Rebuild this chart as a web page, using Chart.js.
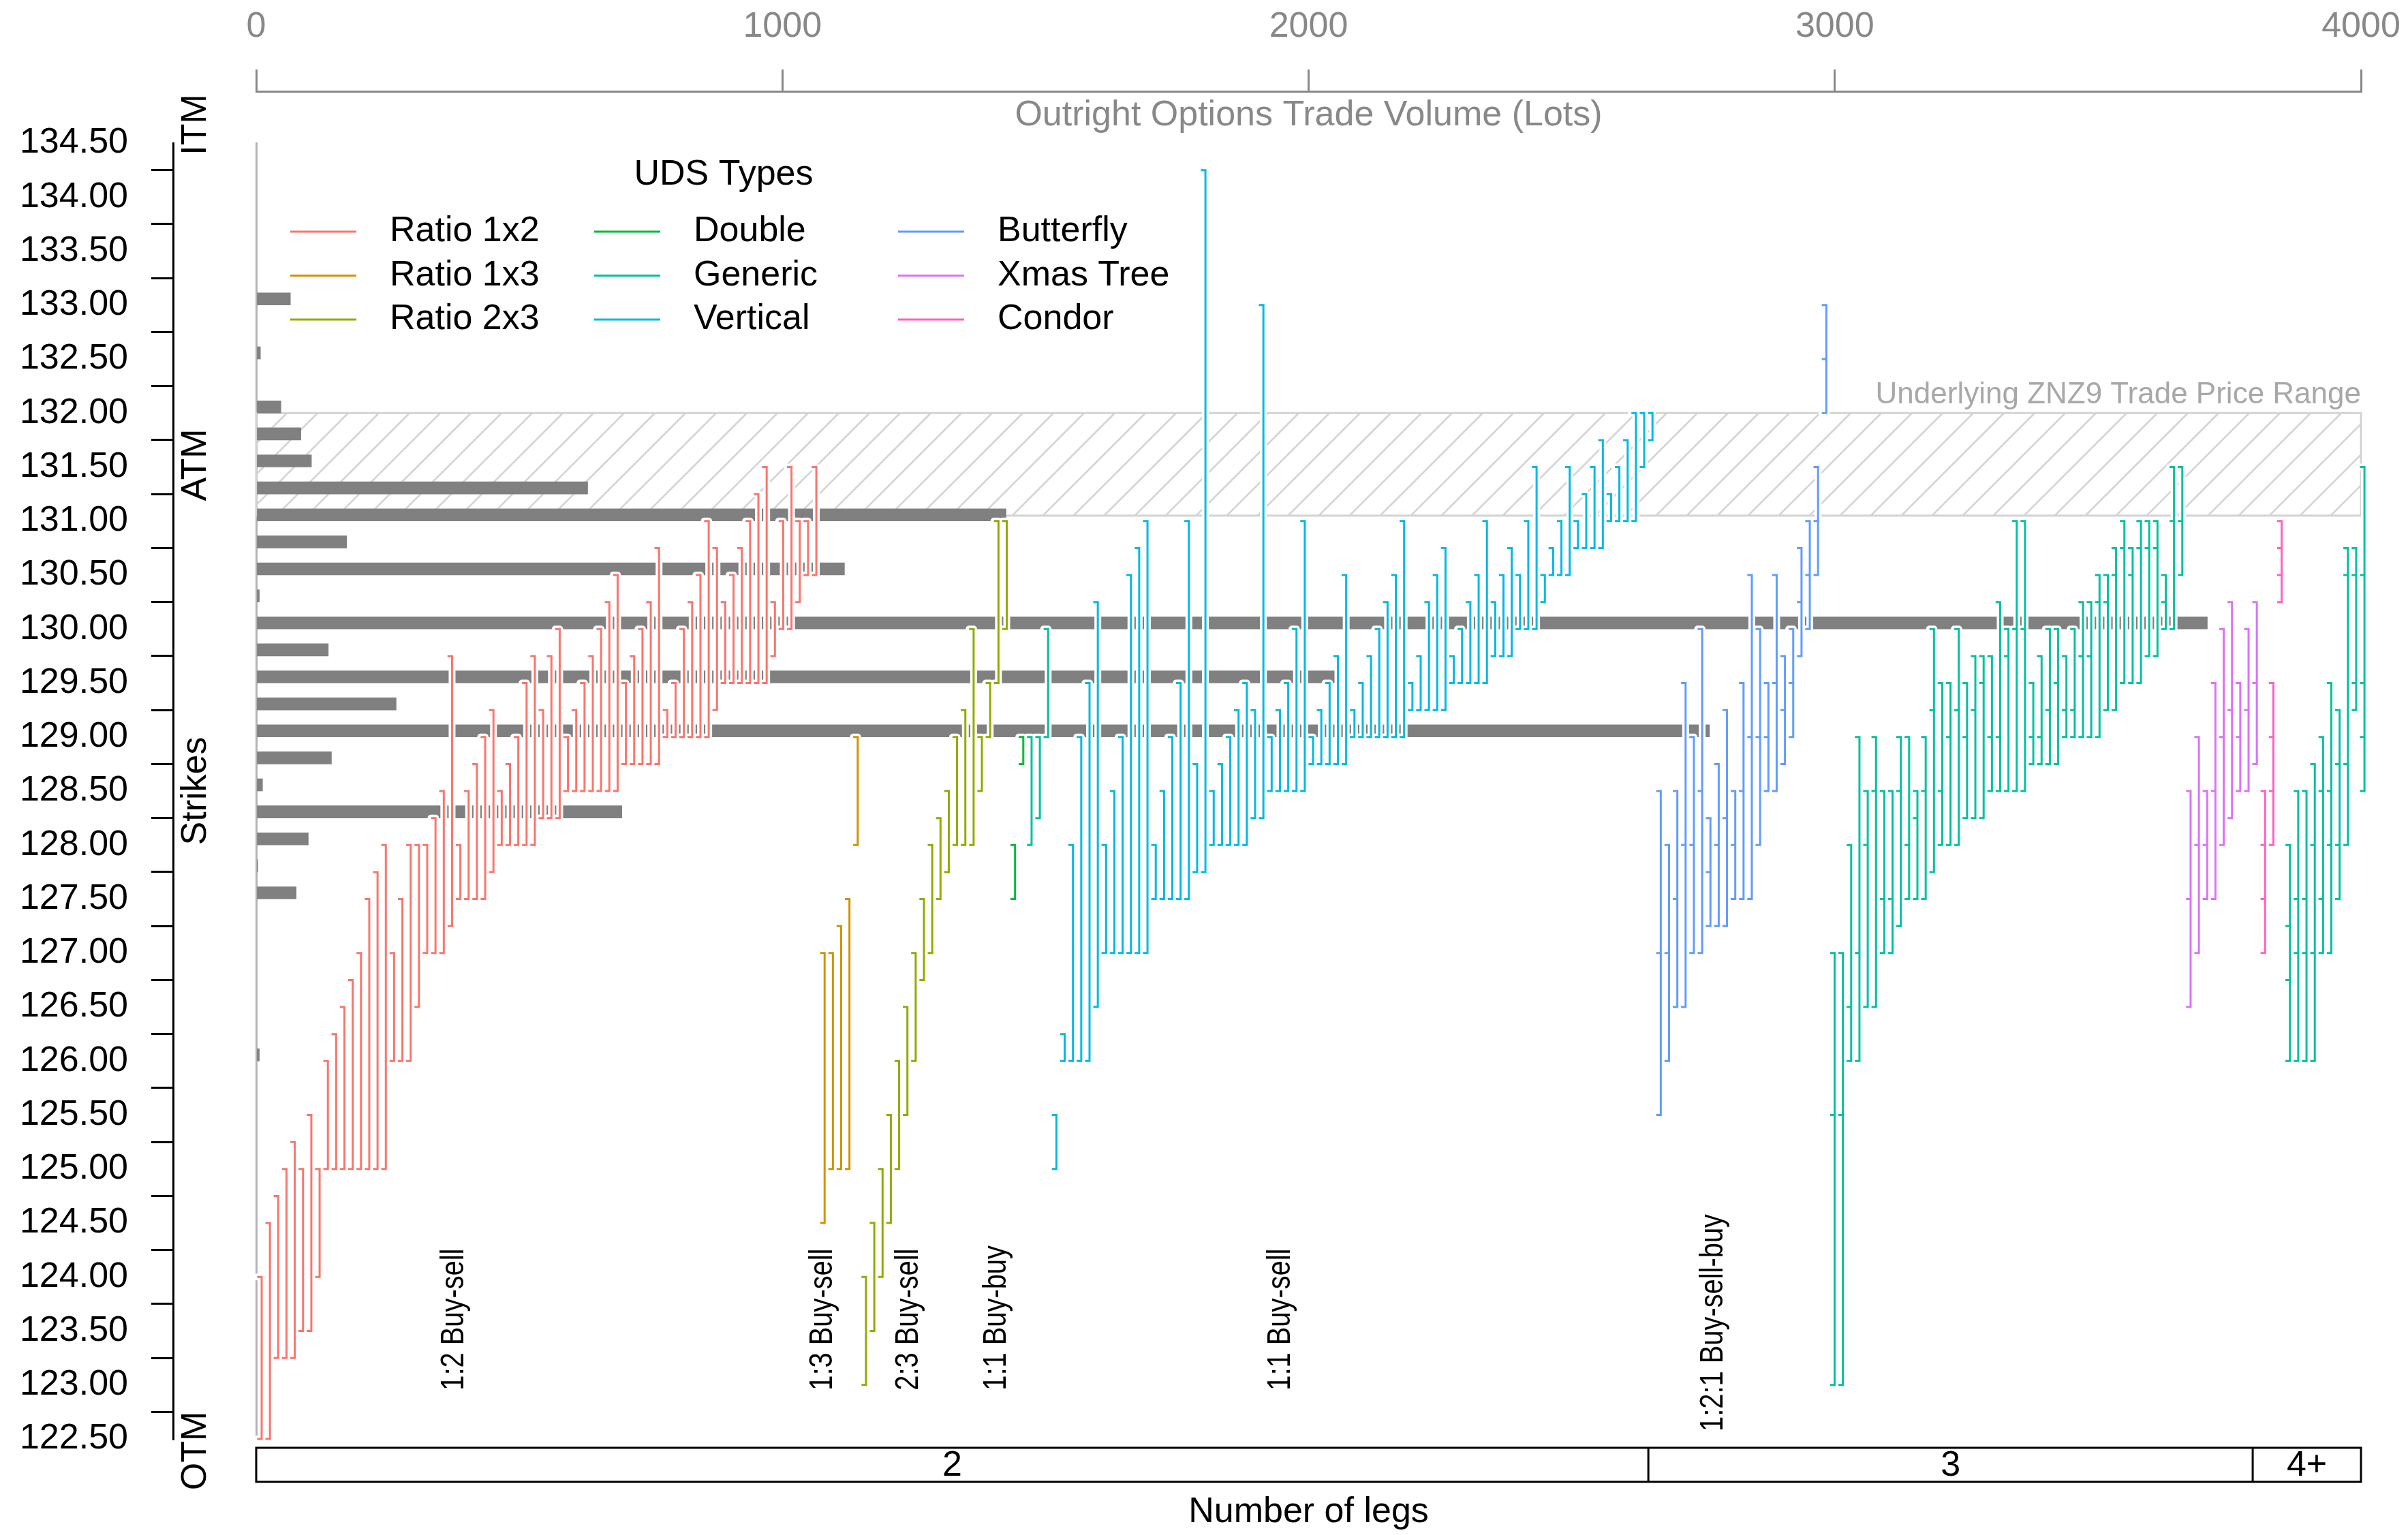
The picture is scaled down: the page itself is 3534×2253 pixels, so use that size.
<!DOCTYPE html>
<html>
<head>
<meta charset="utf-8">
<script src="https://cdn.jsdelivr.net/npm/chart.js@4/dist/chart.umd.min.js"></script>
<style>
  html, body { margin: 0; padding: 0; background: #fff; }
  canvas { display: block; }
</style>
</head>
<body>
<canvas id="udsChart" width="3534" height="2253"></canvas>
<script>
// outright options volume per strike (grey bars)
const strikes = [133.0, 132.5, 132.0, 131.75, 131.5, 131.25, 131.0, 130.75, 130.5, 130.25, 130.0,
                 129.75, 129.5, 129.25, 129.0, 128.75, 128.5, 128.25, 128.0, 127.75, 127.5, 126.0];
const outrightVolume = [65, 8, 47, 85, 105, 630, 1425, 172, 1118, 6, 3708,
                        137, 2050, 266, 2762, 143, 12, 695, 99, 3, 76, 6];

const typeNames = ['Ratio 1x2', 'Ratio 1x3', 'Ratio 2x3', 'Double', 'Generic', 'Vertical', 'Butterfly', 'Xmas Tree', 'Condor'];
const typeColors = ['#F8766D', '#D39200', '#93AA00', '#00BA38', '#00C19F', '#00B9E3', '#619CFF', '#DB72FB', '#FF61C3'];

// each spread = its leg strikes, low to high
const ratio1x2 = [
  [122.5,124],[122.5,124.5],[123.25,124.75],[123.25,125],[123.25,125.25],[123.5,125],[123.5,125.5],[124,125],
  [125,126],[125,126.25],[125,126.5],[125,126.75],[125,127],[125,127.5],[125,127.75],[125,128],
  [126,127],[126,127.5],[126,128],[126.5,128],[127,128],[127,128.25],[127,128.5],[127.25,129.75],
  [127.5,128],[127.5,128.5],[127.5,128.75],[127.5,129],[127.75,129.25],
  [128,128.5],[128,128.75],[128,129],[128,129.5],[128,129.75],
  [128.25,129.25],[128.25,129.75],[128.25,130],
  [128.5,129],[128.5,129.25],[128.5,129.5],[128.5,129.75],[128.5,130],[128.5,130.25],[128.5,130.5],
  [128.75,129.5],[128.75,129.75],[128.75,130],[128.75,130.25],[128.75,130.75],
  [129,129.25],[129,129.5],[129,130],[129,130.25],[129,130.5],[129,131],
  [129.25,130.75],
  [129.5,130.25],[129.5,130.5],[129.5,130.75],[129.5,131],[129.5,131.25],[129.5,131.5],
  [129.75,130.25],[130,131],[130,131.5],[130.25,131],[130.5,131],[130.5,131.5]
];
const ratio1x3 = [[124.5,127],[125,127],[125,127.25],[125,127.5],[128,129]];
const ratio2x3 = [
  [123,124],[123.5,124.5],[124,125],[124.5,125.5],[125,126],[125.5,126.5],[126,127],[126.75,127.5],[127,128],
  [127.5,128.25],[127.75,128.5],[128,129],[128,129.25],[128,130],[128.5,129],[129,129.5],[129.5,131],[130,131]
];
const double2 = [[127.5,128],[128.75,129]];
const generic2 = [[128,129],[128.25,129],[129,130]];
const vertical2 = [
  [125,125.5],[126,126.25],[126,128],[126,129],[126,129.5],[126.5,130.25],
  [127,128],[127,128.5],[127,129],[127,130.5],[127,130.75],[127,131],
  [127.5,128],[127.5,128.5],[127.5,129],[127.5,129.5],[127.5,131],
  [127.75,128.75],[127.75,134.25],
  [128,128.5],[128,128.75],[128,129],[128,129.25],[128,129.5],
  [128.25,129.25],[128.25,133],
  [128.5,129],[128.5,129.25],[128.5,129.5],[128.5,130],[128.5,131],
  [128.75,129],[128.75,129.25],[128.75,129.5],[128.75,129.75],[128.75,130.5],
  [129,129.25],[129,129.5],[129,129.75],[129,130],[129,130.25],[129,130.5],[129,131],
  [129.25,129.5],[129.25,129.75],[129.25,130.25],[129.25,130.5],[129.25,130.75],
  [129.5,129.75],[129.5,130],[129.5,130.25],[129.5,130.5],[129.5,131],
  [129.75,130.25],[129.75,130.5],[129.75,130.75],
  [130,130.5],[130,131],[130,131.5],
  [130.25,130.5],[130.5,130.75],[130.5,131],[130.5,131.5],
  [130.75,131],[130.75,131.25],[130.75,131.5],[130.75,131.75],
  [131,131.25],[131,131.5],[131,131.75],[131,132],[131.5,132],[131.75,132]
];
const butterfly3 = [
  [125.5,127,128.5],[126,127,128],[126.5,127.5,128.5],[126.5,128,129.5],[127,128,129],[127,128.5,130],
  [127.25,127.75,128.25],[127.25,128,128.75],[127.25,128.25,129.25],[127.5,128,128.5],[127.5,128.5,129.5],
  [127.5,129,130.5],[128,129,130],[128.5,129,129.5],[128.5,129.5,130.5],[128.75,129.25,129.75],
  [129,129.5,130],[129.75,130.25,130.75],[130,130.5,131],[130.5,131,131.5],[132,132.5,133]
];
const generic3 = [
  [123,125.5,127],[123,125.5,127],[126,126.5,128],[126,127,129],[126.5,128,128.5],[126.5,128.5,129],
  [127,127.5,128.5],[127,127.5,128.5],[127.25,128.5,129],[127.5,128,129],[127.5,128.25,128.5],[127.5,128.5,129],
  [127.75,129.25,130],[128,128.5,129.5],[128,129,129.5],[128,129.25,130],[128.25,129,129.5],[128.25,129.25,129.75],
  [128.25,129.5,129.75],[128.5,129,129.75],[128.5,129,130.25],[128.5,129.75,130],[128.5,130,131],[128.5,130,131],
  [128.75,129,129.5],[128.75,129,129.75],[128.75,129.25,130],[128.75,129.5,130],[129,129.25,129.75],[129,129.25,130],
  [129,129.75,130.25],[129,129.75,130.25],[129,130.25,130.5],[129.25,130.25,130.5],[129.25,130.5,130.75],
  [129.5,130.75,131],[129.5,130.5,130.75],[129.5,130.75,131],[129.75,130.75,131],[129.75,130.75,131],
  [130,130.25,130.5],[130,131,131.5],[130.5,131,131.5]
];
const xmasTree = [
  [126.5,127.5,128.5],[127,128,129],[127.5,128,128.5],[127.5,128.5,129.5],[128,129,130],
  [128.25,129.25,130.25],[128.5,129,129.5],[128.5,129.25,130],[128.75,129.5,130.25]
];
const condor4 = [[127,127.5,128,128.5],[128,128.5,129,129.5],[130.25,130.5,130.75,131]];
const generic4 = [
  [126,126.75,127.25,128],[126,127,127.5,128.5],[126,127,127.5,128.5],[126,127,128,128.75],
  [127,127.5,128.5,129],[127,128,128.5,129.5],[127.5,128,128.75,129.25],[128,128.75,130.5,130.75],
  [129.25,129.5,130.5,130.75],[128.5,129,129.5,130.5,131.5]
];

// left-to-right order of the spreads
const glyphOrder = [
  ['Ratio 1x2', ratio1x2], ['Ratio 1x3', ratio1x3], ['Ratio 2x3', ratio2x3], ['Double', double2],
  ['Generic', generic2], ['Vertical', vertical2], ['Butterfly', butterfly3], ['Generic', generic3],
  ['Xmas Tree', xmasTree], ['Condor', condor4], ['Generic', generic4]
];

const legGroups = ['2', '3', '4+'];
const legCounts = [168, 73, 14];

const spreadNotes = ['1:2 Buy-sell', '1:3 Buy-sell', '2:3 Buy-sell', '1:1 Buy-buy', '1:1 Buy-sell', '1:2:1 Buy-sell-buy'];
const notePos = [23.3, 67.8, 78.2, 88.8, 123.1, 175.4];
const noteStrike = [122.95, 122.95, 122.95, 122.95, 122.95, 122.57];

const moneyness = ['ITM', 'ATM', 'Strikes', 'OTM'];
const moneynessAt = [134.67, 131.52, 128.5, 122.39];

const priceRange = [131.05, 132.0];
const priceRangeLabel = 'Underlying ZNZ9 Trade Price Range';

const FONT = '"Liberation Sans", Arial, sans-serif';
const TICK = 0.55;

// build "]" shaped paths per type
const pathByType = {};
typeNames.forEach(t => pathByType[t] = []);
let idx = 0;
glyphOrder.forEach(([type, list]) => {
  list.forEach(legs => {
    const pts = pathByType[type];
    const n = legs.length;
    pts.push({x: idx - TICK, y: legs[0]}, {x: idx, y: legs[0]});
    for (let k = 1; k < n - 1; k++) {
      pts.push({x: idx, y: legs[k]}, {x: idx - TICK, y: legs[k]}, {x: idx, y: legs[k]});
    }
    pts.push({x: idx, y: legs[n - 1]}, {x: idx - TICK, y: legs[n - 1]}, {x: idx, y: null});
    idx++;
  });
});

const lineBase = {type: 'line', xAxisID: 'xg', yAxisID: 'y', pointRadius: 0, spanGaps: false,
                  fill: false, tension: 0, clip: false};

const datasets = [{
  type: 'bar', label: 'Outright volume', indexAxis: 'y', xAxisID: 'xv', yAxisID: 'y',
  data: strikes.map((s, i) => ({x: outrightVolume[i], y: s})),
  backgroundColor: '#808080', borderWidth: 0, barThickness: 18, order: 30
}];
typeNames.forEach(t => {
  datasets.push(Object.assign({}, lineBase, {
    label: t + ' halo', data: pathByType[t], borderColor: '#ffffff', borderWidth: 10,
    borderCapStyle: 'round', borderJoinStyle: 'round', order: 20
  }));
});
typeNames.forEach((t, i) => {
  datasets.push(Object.assign({}, lineBase, {
    label: t, data: pathByType[t], borderColor: typeColors[i], borderWidth: 3,
    borderCapStyle: 'butt', borderJoinStyle: 'miter', order: 10
  }));
});

function noPad(s) {
  s.paddingLeft = 0; s.paddingRight = 0; s.paddingTop = 0; s.paddingBottom = 0;
}

const decor = {
  id: 'decor',
  beforeDatasetsDraw(chart) {
    const {ctx, chartArea: a, scales: {y}} = chart;
    const top = y.getPixelForValue(priceRange[1]);
    const bot = y.getPixelForValue(priceRange[0]);
    const h = bot - top;
    ctx.save();
    ctx.beginPath();
    ctx.rect(a.left, top, a.width, h);
    ctx.clip();
    ctx.beginPath();
    ctx.strokeStyle = '#d3d3d3';
    ctx.lineWidth = 2.5;
    for (let x = a.left - h; x < a.right + h; x += 45) {
      ctx.moveTo(x, bot);
      ctx.lineTo(x + h, top);
    }
    ctx.stroke();
    ctx.restore();
    ctx.save();
    ctx.strokeStyle = '#d3d3d3';
    ctx.lineWidth = 3;
    ctx.strokeRect(a.left, top, a.width, h);
    ctx.fillStyle = '#a8a8a8';
    ctx.font = '44px ' + FONT;
    ctx.textAlign = 'right';
    ctx.textBaseline = 'middle';
    ctx.fillText(priceRangeLabel, a.right, top - 26);
    ctx.restore();
  },
  afterDatasetsDraw(chart) {
    const {ctx, chartArea: a, scales: {xg, y}} = chart;
    ctx.save();
    // spread annotations (condensed)
    ctx.fillStyle = '#000';
    ctx.font = '48px ' + FONT;
    ctx.textAlign = 'left';
    ctx.textBaseline = 'middle';
    spreadNotes.forEach((txt, i) => {
      ctx.save();
      ctx.translate(xg.getPixelForValue(notePos[i]), y.getPixelForValue(noteStrike[i]));
      ctx.rotate(-Math.PI / 2);
      ctx.scale(0.83, 1);
      ctx.fillText(txt, 0, 0);
      ctx.restore();
    });
    // legend
    ctx.font = '52px ' + FONT;
    ctx.textAlign = 'center';
    ctx.fillText('UDS Types', a.left + 686, a.top + 47);
    ctx.textAlign = 'left';
    typeNames.forEach((t, i) => {
      const col = Math.floor(i / 3), row = i % 3;
      const x0 = a.left + 50 + col * 446;
      const yy = a.top + 130 + row * 64.5;
      ctx.strokeStyle = typeColors[i];
      ctx.lineWidth = 3;
      ctx.beginPath();
      ctx.moveTo(x0, yy);
      ctx.lineTo(x0 + 97, yy);
      ctx.stroke();
      ctx.fillStyle = '#000';
      ctx.fillText(t, x0 + 146, yy);
    });
    ctx.restore();
  },
  afterDraw(chart) {
    const {ctx, chartArea: a, scales: {xg, y}} = chart;
    ctx.save();
    ctx.fillStyle = '#000';
    ctx.font = '52px ' + FONT;
    ctx.textAlign = 'center';
    ctx.textBaseline = 'middle';
    // moneyness labels beside the strike axis
    moneyness.forEach((t, i) => {
      ctx.save();
      ctx.translate(y.right + 34, y.getPixelForValue(moneynessAt[i]));
      ctx.rotate(-Math.PI / 2);
      ctx.fillText(t, 0, 0);
      ctx.restore();
    });
    // number-of-legs strip
    const top = a.bottom + 13, hh = 50;
    ctx.strokeStyle = '#000';
    ctx.lineWidth = 3;
    ctx.strokeRect(a.left, top, a.width, hh);
    let cum = 0;
    let left = a.left;
    legGroups.forEach((g, i) => {
      cum += legCounts[i];
      const right = i === legGroups.length - 1 ? a.right : xg.getPixelForValue(cum - 0.5);
      if (i < legGroups.length - 1) {
        ctx.beginPath();
        ctx.moveTo(right, top);
        ctx.lineTo(right, top + hh);
        ctx.stroke();
      }
      ctx.fillText(g, (left + right) / 2, top + hh / 2 + 2);
      left = right;
    });
    ctx.restore();
  }
};

Chart.defaults.font.family = FONT;
Chart.defaults.font.size = 52;

new Chart(document.getElementById('udsChart').getContext('2d'), {
  type: 'line',
  data: {datasets: datasets},
  options: {
    responsive: false,
    animation: false,
    devicePixelRatio: 1,
    layout: {padding: {left: 0, right: 69, top: 0, bottom: 0}},
    plugins: {legend: {display: false}, tooltip: {enabled: false}},
    scales: {
      xv: {
        type: 'linear', position: 'top', min: 0, max: 4000, weight: 10, offset: false,
        ticks: {stepSize: 1000, color: '#888888', padding: 31, maxRotation: 0,
                callback: v => String(v)},
        grid: {drawOnChartArea: false, drawTicks: true, tickLength: 32, color: '#888888', lineWidth: 3},
        border: {display: true, color: '#888888', width: 3},
        afterFit(s) { s.height = 134; noPad(s); }
      },
      xgap: {
        type: 'linear', position: 'top', weight: 0, min: 0, max: 1,
        ticks: {display: false}, grid: {display: false}, border: {display: false},
        title: {display: true, text: 'Outright Options Trade Volume (Lots)', color: '#888888',
                padding: {top: 4, bottom: 0}},
        afterFit(s) { s.height = 76; noPad(s); }
      },
      xg: {
        type: 'linear', position: 'bottom', min: -0.66, max: 253.58, offset: false,
        ticks: {display: false}, grid: {display: false}, border: {display: false},
        title: {display: true, text: 'Number of legs', color: '#000', padding: {top: 0, bottom: 2}},
        afterFit(s) { s.height = 141; noPad(s); }
      },
      y: {
        type: 'linear', position: 'left', min: 122.5, max: 134.5, weight: 10, offset: false,
        ticks: {stepSize: 0.5, autoSkip: false, color: '#000', padding: 34,
                callback: v => Number(v).toFixed(2)},
        grid: {drawOnChartArea: false, drawTicks: true, tickLength: 32, color: '#000', lineWidth: 3},
        border: {display: true, color: '#000', width: 3},
        afterFit(s) { s.width = 254; noPad(s); }
      },
      ygap: {
        type: 'linear', position: 'left', weight: 0, min: 0, max: 1,
        ticks: {display: false}, grid: {display: false},
        border: {display: true, color: '#b3b3b3', width: 3},
        afterFit(s) { s.width = 122; noPad(s); }
      }
    }
  },
  plugins: [decor]
});
</script>
</body>
</html>
